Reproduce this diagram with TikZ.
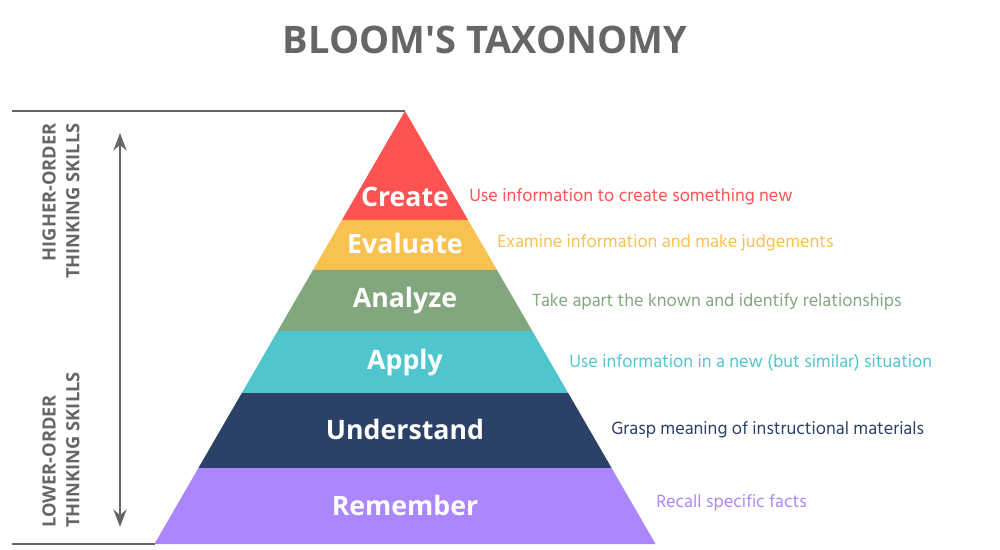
\documentclass[tikz,border=0pt]{standalone}
\usepackage{fontspec}
\setmainfont{Open Sans}
\newfontfamily\descfont{Hind Madurai}
\usetikzlibrary{arrows.meta,calc}
\definecolor{bloomgray}{HTML}{666666}
\definecolor{bloomred}{HTML}{FF5252}
\definecolor{bloomyellow}{HTML}{F8C150}
\definecolor{bloomgreen}{HTML}{82A67E}
\definecolor{bloomcyan}{HTML}{4FC6CE}
\definecolor{bloomnavy}{HTML}{2B4168}
\definecolor{bloompurple}{HTML}{AC86FC}
\tikzset{
  level/.style={text=white, font=\fontsize{19}{23}\selectfont\bfseries},
  desc/.style={anchor=west, inner sep=0pt, font=\fontsize{12.9}{15}\selectfont\descfont},
  side/.style={text=bloomgray, rotate=90, inner sep=0pt, font=\fontsize{13}{17}\selectfont\bfseries},
  rule/.style={bloomgray, line width=2.1pt}
}
\begin{document}
\begin{tikzpicture}[x=0.025cm, y=-0.025cm, >=Stealth]
    \useasboundingbox (0,0) rectangle (1000,550);
    \node[text=bloomgray, font=\fontsize{27}{32}\selectfont\bfseries] (title) at (485,40) {BLOOM\textquotesingle S TAXONOMY};
    \coordinate (apex) at (405,111);
    \foreach \ytop/\ybot/\col in {111/220/bloomred, 220/270/bloomyellow, 270/331/bloomgreen,
        331/393/bloomcyan, 393/468/bloomnavy, 468/544/bloompurple} {
      \pgfmathsetmacro{\wt}{0.5787*(\ytop-111)}
      \pgfmathsetmacro{\wb}{0.5787*(\ybot-111)}
      \fill[\col] (405-\wt,\ytop) -- (405+\wt,\ytop) -- (405+\wb,\ybot) -- (405-\wb,\ybot) -- cycle;
    }
    \node[level] (create) at (405,197) {Create};
    \node[level] (evaluate) at (405,243) {Evaluate};
    \node[level] (analyze) at (405,301) {Analyze};
    \node[level] (apply) at (405,363) {Apply};
    \node[level] (understand) at (405,429) {Understand};
    \node[level] (remember) at (405,505) {Remember};
    \node[desc, text=bloomred] (create-d) at (469,197) {Use information to create something new};
    \node[desc, text=bloomyellow] (evaluate-d) at (497,243) {Examine information and make judgements};
    \node[desc, text=bloomgreen] (analyze-d) at (532,302) {Take apart the known and identify relationships};
    \node[desc, text=bloomcyan] (apply-d) at (569,363) {Use information in a new (but similar) situation};
    \node[desc, text=bloomnavy] (understand-d) at (611,430) {Grasp meaning of instructional materials};
    \node[desc, text=bloompurple] (remember-d) at (656,503) {Recall specific facts};
    \coordinate (top-l) at (12,111);
    \coordinate (bot-l) at (12,544);
    \coordinate (bot-r) at (155,544);
    \draw[rule] (top-l) -- (apex);
    \draw[rule] (bot-l) -- (bot-r);
    \coordinate (arr-t) at (120,133);
    \coordinate (arr-b) at (120,527);
    \draw[rule, <->] (arr-t) -- (arr-b);
    \node[side, anchor=east, align=right] (higher) at (61,123) {HIGHER-ORDER\\THINKING SKILLS};
    \node[side, anchor=west, align=left] (lower) at (61,528) {LOWER-ORDER\\THINKING SKILLS};
  \end{tikzpicture}
\end{document}
